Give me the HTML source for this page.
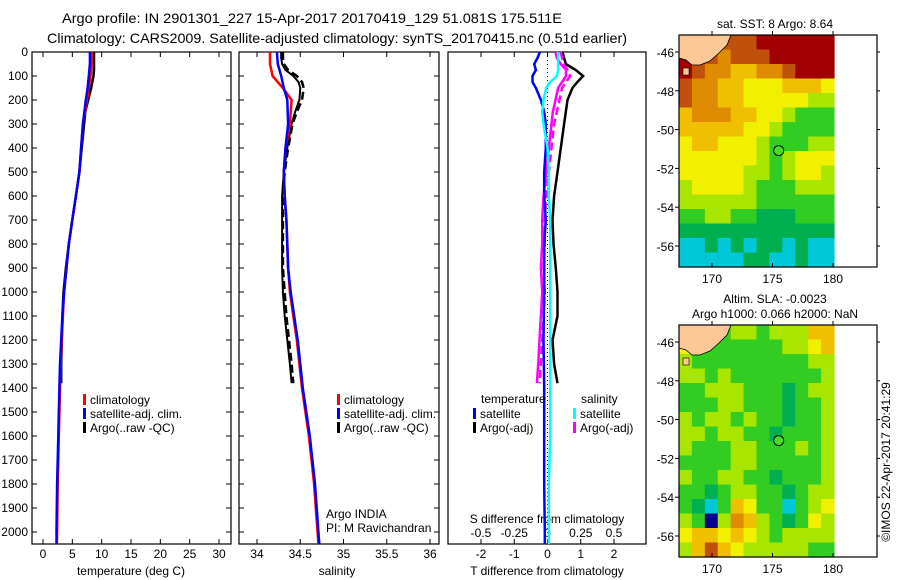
<!DOCTYPE html>
<html><head><meta charset="utf-8"><style>
html,body{margin:0;padding:0;background:#fff}
svg{display:block;font-family:"Liberation Sans",sans-serif}
text{fill:#000}
</style></head><body>
<svg id="chart" width="900" height="580" viewBox="0 0 900 580">
<text x="62" y="23" font-size="14" textLength="500" lengthAdjust="spacingAndGlyphs">Argo profile: IN 2901301_227 15-Apr-2017 20170419_129 51.081S 175.511E</text>
<text x="47" y="43" font-size="14" textLength="580" lengthAdjust="spacingAndGlyphs">Climatology: CARS2009. Satellite-adjusted climatology: synTS_20170415.nc (0.51d earlier)</text>
<g id="g1"></g>
<g id="g2"></g>
<g id="g3"></g>
<g id="m1"></g>
<g id="m2"></g>
<text transform="translate(890,462) rotate(-90)" font-size="12" text-anchor="middle">©IMOS 22-Apr-2017 20:41:29</text>
</svg>
<script>
// ---- data ----
const depths = [0,50,100,150,200,300,400,500,600,700,800,900,1000,1100,1200,1300,1400,1500,1600,1700,1800,1900,2000,2050];
const tempClim = [8.3,8.3,8.1,7.8,7.5,6.8,6.5,6.2,5.6,5.0,4.4,4.0,3.6,3.4,3.2,3.0,2.9,2.8,2.7,2.6,2.5,2.45,2.4,2.35];
const tempSat = [8.0,8.0,7.8,7.6,7.3,6.8,6.5,6.2,5.6,5.0,4.4,4.0,3.6,3.3,3.1,2.9,2.8,2.7,2.6,2.5,2.4,2.35,2.3,2.3];
const argoDepths = [0,25,50,75,100,125,150,200,250,300,400,500,600,700,800,900,1000,1100,1200,1300,1380];
const tempArgo = [8.7,8.7,8.7,8.7,8.6,8.4,8.2,7.7,7.2,7.0,6.6,6.2,5.6,5.0,4.4,3.9,3.5,3.3,3.2,3.1,3.1];
const salClim = [34.15,34.15,34.18,34.30,34.40,34.38,34.33,34.31,34.32,34.34,34.35,34.36,34.38,34.42,34.46,34.49,34.52,34.56,34.60,34.63,34.66,34.68,34.70,34.71];
const salSat = [34.23,34.24,34.28,34.31,34.35,34.36,34.33,34.31,34.32,34.34,34.35,34.36,34.39,34.43,34.47,34.50,34.53,34.57,34.61,34.64,34.67,34.69,34.71,34.72];
const salArgo = [34.28,34.28,34.29,34.33,34.42,34.48,34.50,34.49,34.44,34.40,34.35,34.31,34.29,34.29,34.29,34.29,34.30,34.32,34.35,34.38,34.40];
const salArgoAdj = [34.30,34.30,34.31,34.36,34.46,34.52,34.54,34.52,34.46,34.41,34.36,34.32,34.30,34.30,34.30,34.30,34.32,34.34,34.37,34.40,34.42];
const satDepths = [0,25,50,75,100,125,150,200,250,300,400,500,600,700,800,900,1000,1200,1400,1600,1800,2000,2050];
const tSatDiff = [-0.23,-0.3,-0.4,-0.35,-0.45,-0.45,-0.35,-0.2,-0.1,-0.05,-0.05,-0.1,-0.1,-0.05,-0.1,-0.1,-0.1,-0.12,-0.1,-0.1,-0.1,-0.08,-0.08];
const sSatDiff = [0.08,0.08,0.08,0.08,0.07,0.02,-0.01,-0.03,-0.04,-0.03,0.0,0.01,0.01,0.02,0.02,0.02,0.02,0.02,0.02,0.02,0.01,0.01,0.01];
const tArgoDiff = [0.45,0.5,0.55,0.85,1.07,0.9,0.75,0.6,0.55,0.5,0.4,0.3,0.2,0.15,0.18,0.25,0.3,0.3,0.15,0.2,0.3];
const sArgoDiff = [0.06,0.07,0.10,0.14,0.14,0.11,0.08,0.06,0.04,0.03,0.01,-0.01,-0.03,-0.04,-0.04,-0.05,-0.04,-0.05,-0.06,-0.07,-0.08];
const sArgoDiffAdj = [0.10,0.11,0.12,0.15,0.17,0.14,0.11,0.09,0.07,0.05,0.03,0.01,-0.01,-0.02,-0.02,-0.03,-0.02,-0.03,-0.04,-0.05,-0.06];
const depthTicks = [0,100,200,300,400,500,600,700,800,900,1000,1100,1200,1300,1400,1500,1600,1700,1800,1900,2000];
const tempTicks = [0,5,10,15,20,25,30];
const salTicks = [34,34.5,35,35.5,36];
const salTickLabels = ["34","34.5","35","35.5","36"];
const tDiffTicks = [-2,-1,0,1,2];
const sDiffTicks = [-0.5,-0.25,0,0.25,0.5];
const sDiffTickLabels = ["-0.5","-0.25","0","0.25","0.5"];
const latTicks = [-46,-48,-50,-52,-54,-56];
const lonTicks = [170,175,180];
const sstGrid = [
[9,9,8,8,8,8,9,9,9,9,9,9],[9,9,8,7,8,8,8,9,9,9,9,9],[9,8,7,7,6,6,7,7,8,9,9,9],[8,7,7,6,6,5,5,5,6,6,6,5],
[8,7,7,6,6,5,5,5,5,5,4,4],[6,7,7,7,6,6,5,5,4,3,3,3],[6,6,6,6,6,5,5,4,3,3,3,3],[5,6,6,5,5,5,4,3,3,3,4,4],
[5,5,5,5,5,5,4,3,4,5,5,5],[5,5,5,5,5,4,4,3,4,5,5,4],[4,5,5,5,5,4,3,3,3,4,4,4],[4,4,4,4,4,4,3,3,3,3,3,3],
[3,3,4,4,3,3,2,2,2,3,3,3],[2,2,2,2,2,2,2,2,2,2,2,2],[1,1,2,1,2,1,2,2,1,2,1,1],[1,1,1,1,1,2,2,1,1,2,1,1]];
const slaGrid = [
[4,4,3,3,4,4,3,4,4,4,6,6],[5,4,3,3,3,3,3,3,4,4,5,6],[4,3,3,3,3,3,3,3,3,3,4,4],[4,4,3,4,3,3,3,3,3,3,3,4],
[3,3,4,4,4,3,3,3,2,3,4,4],[3,3,3,4,4,3,3,3,2,3,3,4],[4,3,4,4,3,4,3,3,2,3,3,4],[4,4,3,4,4,3,3,2,3,3,3,4],
[4,3,3,3,4,4,3,3,3,4,3,4],[3,3,3,3,4,4,3,3,3,3,3,4],[4,3,3,4,4,3,3,2,3,3,3,4],[3,3,2,3,4,4,3,3,2,3,4,4],
[3,2,1,3,6,5,3,3,1,3,4,5],[4,3,0,4,7,6,4,3,2,3,5,4],[5,6,6,5,6,5,4,3,4,4,4,4],[4,6,8,6,5,4,4,4,4,4,3,3]];
const argoLon = [175.511];
const argoLat = [-51.081];

// ---- helpers ----
const NS="http://www.w3.org/2000/svg";
function mk(parent,tag,attrs){const e=document.createElementNS(NS,tag);for(const k in attrs)e.setAttribute(k,attrs[k]);parent.appendChild(e);return e;}
const top0=52, bot0=544;
const yD = d => top0 + d*0.24;
function lin(d0,d1,p0,p1){return v=>p0+(v-d0)*(p1-p0)/(d1-d0);}
function line(g,xs,ds,sx,color,w,dash,name){
  const pts=xs.map((v,i)=>sx(v).toFixed(1)+","+yD(ds[i]).toFixed(1)).join(" ");
  const p=mk(g,"polyline",{points:pts,fill:"none",stroke:color,"stroke-width":w});
  if(dash)p.setAttribute("stroke-dasharray",dash);
  
  
}
function frame(g,x0,x1,name){
  const r=mk(g,"rect",{x:x0,y:top0,width:x1-x0,height:bot0-top0,fill:"none",stroke:"#000","stroke-width":1.2});
  
  
}
function xTicks(g,sx,vals,labels,y,name){
  vals.forEach((v,i)=>{const x=sx(v);
    mk(g,"line",{x1:x,x2:x,y1:bot0,y2:bot0-5,stroke:"#000"});
    mk(g,"line",{x1:x,x2:x,y1:top0,y2:top0+5,stroke:"#000"});
    const t=mk(g,"text",{x:x,y:y,"font-size":12,"text-anchor":"middle"});t.textContent=labels[i];
    
    
  });
}
function yTicks(g,x0,x1,labels){
  depthTicks.forEach(d=>{const y=yD(d);
    mk(g,"line",{x1:x0,x2:x0+5,y1:y,y2:y,stroke:"#000"});
    mk(g,"line",{x1:x1,x2:x1-5,y1:y,y2:y,stroke:"#000"});
    if(labels){const t=mk(g,"text",{x:x0-4,y:y+4,"font-size":12,"text-anchor":"end"});t.textContent=d;
      
      }
  });
}
function legend(g,x,y,color,label,name){
  mk(g,"rect",{x:x,y:y-9,width:3,height:11,fill:color});
  const t=mk(g,"text",{x:x+7,y:y+1,"font-size":12});t.textContent=label;
  
  
}
function label(g,x,y,s,anchor,name){const t=mk(g,"text",{x:x,y:y,"font-size":12,"text-anchor":anchor||"start"});t.textContent=s;
  
  }

// ---- panel 1 temperature ----
const g1=document.getElementById("g1");
const sxT=lin(0,30,43,219);
frame(g1,32,231,"temperature-plot-area");
yTicks(g1,32,231,true);
xTicks(g1,sxT,tempTicks,tempTicks.map(String),558,"temperature-tick-label");
label(g1,131,575,"temperature (deg C)","middle","temperature-axis-title");
line(g1,tempArgo,argoDepths,sxT,"#000",2.5,null,"temperature-argo-line");
line(g1,tempClim,depths,sxT,"#f00",2.5,null,"temperature-climatology-line");
line(g1,tempSat,depths,sxT,"#00f",2.5,null,"temperature-satellite-line");
legend(g1,83,403,"#f00","climatology","legend-climatology");
legend(g1,83,417,"#00f","satellite-adj. clim.","legend-satellite-adj");
legend(g1,83,431,"#000","Argo(..raw -QC)","legend-argo");

// ---- panel 2 salinity ----
const g2=document.getElementById("g2");
const sxS=lin(34,36,257,430);
frame(g2,239,439,"salinity-plot-area");
yTicks(g2,239,439,false);
xTicks(g2,sxS,salTicks,salTickLabels,558,"salinity-tick-label");
label(g2,337,575,"salinity","middle","salinity-axis-title");
line(g2,salArgo,argoDepths,sxS,"#000",2,null,"salinity-argo-line");
line(g2,salArgoAdj,argoDepths,sxS,"#000",2.5,"8,4","salinity-argo-adj-line");
line(g2,salClim,depths,sxS,"#f00",2.5,null,"salinity-climatology-line");
line(g2,salSat,depths,sxS,"#00f",2.5,null,"salinity-satellite-line");
legend(g2,337,403,"#f00","climatology","legend-climatology-sal");
legend(g2,337,417,"#00f","satellite-adj. clim.","legend-satellite-adj-sal");
legend(g2,337,431,"#000","Argo(..raw -QC)","legend-argo-sal");
label(g2,326,518,"Argo INDIA","start","argo-india-label");
label(g2,326,532,"PI: M Ravichandran","start","pi-label");

// ---- panel 3 differences ----
const g3=document.getElementById("g3");
const sxD=lin(-2,2,481,614);
const sxSD=lin(-0.5,0.5,481,614);
frame(g3,448,646,"difference-plot-area");
xTicks(g3,sxD,tDiffTicks,tDiffTicks.map(String),558,"t-diff-tick-label");
label(g3,547,575,"T difference from climatology","middle","t-diff-axis-title");
sDiffTicks.forEach((v,i)=>{const t=mk(g3,"text",{x:sxSD(v),y:537,"font-size":12,"text-anchor":"middle"});t.textContent=sDiffTickLabels[i];
  
  });
label(g3,547,523,"S difference from climatology","middle","s-diff-axis-title");
mk(g3,"line",{x1:sxD(0),x2:sxD(0),y1:top0,y2:bot0,stroke:"#000","stroke-dasharray":"1,3"});
line(g3,tArgoDiff,argoDepths,sxD,"#000",2.5,null,"t-diff-argo-line");
line(g3,sArgoDiff,argoDepths,sxSD,"#f0f",2.5,null,"s-diff-argo-line");
line(g3,sArgoDiffAdj,argoDepths,sxSD,"#f0f",2.5,"8,4","s-diff-argo-adj-line");
line(g3,tSatDiff,satDepths,sxD,"#00f",2.5,null,"t-diff-satellite-line");
line(g3,sSatDiff,satDepths,sxSD,"#0ff",2.5,null,"s-diff-satellite-line");
label(g3,481,403,"temperature","start","legend-temperature-heading");
legend(g3,473,417,"#00f","satellite","legend-t-satellite");
legend(g3,473,431,"#000","Argo(-adj)","legend-t-argo");
label(g3,581,403,"salinity","start","legend-salinity-heading");
legend(g3,573,417,"#0ff","satellite","legend-s-satellite");
legend(g3,573,431,"#f0f","Argo(-adj)","legend-s-argo");

// ---- maps ----
const cmap=["#00008c","#00c8d8","#00b050","#33cc22","#a8e600","#f0f000","#f0c000","#e08c00","#c0500a","#a00000"];
function drawMap(id,y0,grid,titles){
  const g=document.getElementById(id);
  const x0=679,x1=877,cx1=834,y1=y0+232;
  const sxL=lin(170,180,712,833), syL=lin(-46,-56,y0+17,y0+211);
  titles.forEach((s,i)=>label(g,775,y0-(titles.length-1-i)*15-7,s,"middle","map-title"));
  const rows=grid.length, cols=grid[0].length, cw=(cx1-x0)/cols, ch=(y1-y0)/rows;
  grid.forEach((row,r)=>row.forEach((v,c)=>{
    const e=mk(g,"rect",{x:(x0+c*cw).toFixed(2),y:(y0+r*ch).toFixed(2),width:(cw+0.6).toFixed(2),height:(ch+0.6).toFixed(2),fill:cmap[v]});
    
    
  }));
  const land=mk(g,"polygon",{points:`679,${y0} 731,${y0} 727,${y0+10} 719,${y0+18} 710,${y0+26} 700,${y0+30} 692,${y0+30} 686,${y0+25} 679,${y0+23}`,fill:"#fcc896",stroke:"#000","stroke-width":0.8});
  
  
  mk(g,"rect",{x:683,y:y0+33,width:6,height:7,fill:"#fcc896",stroke:"#000","stroke-width":0.6});
  mk(g,"rect",{x:x0,y:y0,width:x1-x0,height:y1-y0,fill:"none",stroke:"#000","stroke-width":1.2});
  latTicks.forEach(v=>{const y=syL(v);
    mk(g,"line",{x1:x0,x2:x0-4,y1:y,y2:y,stroke:"#000"});
    mk(g,"line",{x1:x1,x2:x1+3,y1:y,y2:y,stroke:"#000"});
    label(g,x0-5,y+5,String(v),"end","lat-tick-label");});
  lonTicks.forEach(v=>{const x=sxL(v);
    mk(g,"line",{x1:x,x2:x,y1:y1,y2:y1-4,stroke:"#000"});
    mk(g,"line",{x1:x,x2:x,y1:y0,y2:y0-4,stroke:"#000"});
    label(g,x,y1+16,String(v),"middle","lon-tick-label");});
  argoLon.forEach((lo,i)=>{const c=mk(g,"circle",{cx:sxL(lo),cy:syL(argoLat[i]),r:5,fill:"#44dd22",stroke:"#000","stroke-width":1});
    
    });
}
drawMap("m1",35,sstGrid,["sat. SST: 8 Argo: 8.64"]);
drawMap("m2",325,slaGrid,["Altim. SLA: -0.0023","Argo h1000: 0.066 h2000: NaN"]);
</script>
</body></html>
